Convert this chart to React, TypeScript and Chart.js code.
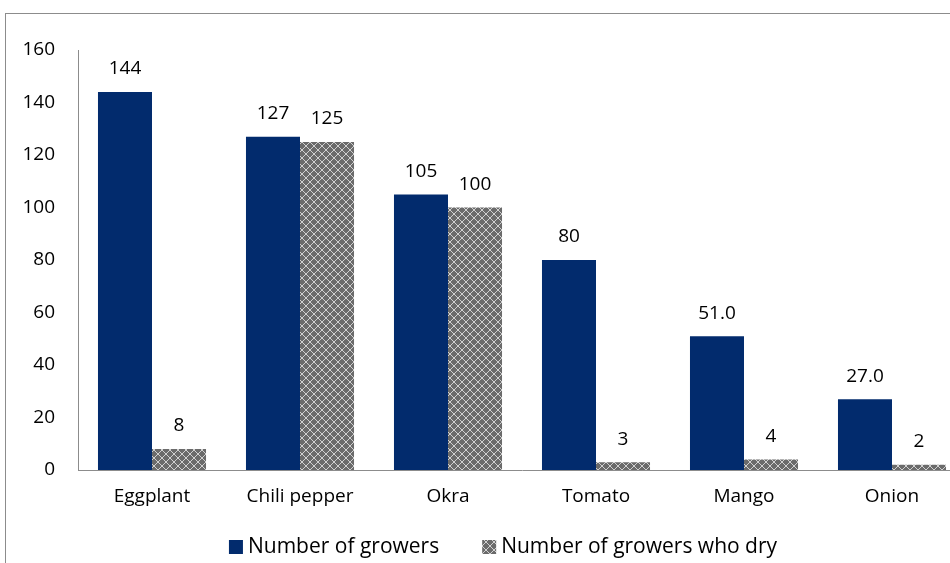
import React, { useEffect, useRef } from "react";
import { Chart, registerables } from "chart.js";

Chart.register(...registerables);

const categories = ["Eggplant", "Chili pepper", "Okra", "Tomato", "Mango", "Onion"];
const growers = [144, 127, 105, 80, 51, 27];
const growersWhoDry = [8, 125, 100, 3, 4, 2];
const growerLabels = ["144", "127", "105", "80", "51.0", "27.0"];
const dryLabels = ["8", "125", "100", "3", "4", "2"];
const seriesNames = ["Number of growers", "Number of growers who dry"];

const FONT = "'Open Sans', Lato, sans-serif";
const FSIZE = 19;
const BLUE = "#022b6d";

function makePattern(): CanvasPattern | string {
  const c = document.createElement("canvas");
  c.width = 8;
  c.height = 8;
  const g = c.getContext("2d");
  if (!g) return "#707070";
  g.fillStyle = "#6b6b6b";
  g.fillRect(0, 0, 8, 8);
  g.strokeStyle = "#d0d0d0";
  g.lineWidth = 1;
  g.beginPath();
  g.moveTo(0, 0);
  g.lineTo(8, 8);
  g.moveTo(8, 0);
  g.lineTo(0, 8);
  g.stroke();
  const p = g.createPattern(c, "repeat");
  return p || "#707070";
}

const labelPlugin = {
  id: "valueLabels",
  afterDatasetsDraw(chart: any) {
    const ctx = chart.ctx;
    const texts = [growerLabels, dryLabels];
    ctx.save();
    ctx.font = `${FSIZE}px ${FONT}`;
    ctx.fillStyle = "#000";
    ctx.textAlign = "center";
    ctx.textBaseline = "middle";
    chart.data.datasets.forEach((_: any, di: number) => {
      const meta = chart.getDatasetMeta(di);
      meta.data.forEach((el: any, i: number) => {
        ctx.fillText(texts[di][i], el.x, el.y - 23);
      });
    });
    ctx.restore();
  },
};

const legendPlugin = {
  id: "customLegend",
  afterDraw(chart: any) {
    const ctx = chart.ctx;
    ctx.save();
    ctx.font = `21px ${FONT}`;
    ctx.textBaseline = "middle";
    ctx.textAlign = "left";
    const box = 14;
    const gapText = 5;
    const gapItem = 43;
    const ds = chart.data.datasets;
    const widths = ds.map((d: any) => ctx.measureText(d.label).width);
    let total = 0;
    widths.forEach((w: number, i: number) => {
      total += box + gapText + w + (i < widths.length - 1 ? gapItem : 0);
    });
    let x = chart.width / 2 - total / 2;
    const cy = 533;
    ds.forEach((d: any, i: number) => {
      ctx.fillStyle = d.backgroundColor;
      ctx.fillRect(x, cy - box / 2, box, box);
      x += box + gapText;
      ctx.fillStyle = "#000";
      ctx.fillText(d.label, x, cy);
      x += widths[i] + gapItem;
    });
    ctx.restore();
  },
};

export default function App() {
  const ref = useRef<HTMLCanvasElement>(null);
  useEffect(() => {
    if (!ref.current) return;
    const pattern = makePattern();
    const chart = new Chart(ref.current, {
      type: "bar",
      data: {
        labels: categories,
        datasets: [
          {
            label: seriesNames[0],
            data: growers,
            backgroundColor: BLUE,
            borderWidth: 0,
            categoryPercentage: 0.73,
            barPercentage: 1,
          },
          {
            label: seriesNames[1],
            data: growersWhoDry,
            backgroundColor: pattern as any,
            borderWidth: 0,
            categoryPercentage: 0.73,
            barPercentage: 1,
          },
        ],
      },
      options: {
        responsive: false,
        animation: false,
        layout: { padding: { top: 36, left: 0, right: 34, bottom: 41 } },
        plugins: {
          tooltip: { enabled: false },
          legend: { display: false },
        },
        scales: {
          x: {
            grid: { display: false, drawTicks: false },
            border: { display: true, color: "#8c8c8c", width: 1 },
            ticks: { color: "#000", font: { family: FONT, size: FSIZE }, padding: 15, maxRotation: 0 },
            afterFit: (s: any) => {
              s.height = 58;
            },
          },
          y: {
            min: 0,
            max: 160,
            grid: { display: false, drawTicks: false },
            border: { display: true, color: "#8c8c8c", width: 1 },
            ticks: { stepSize: 20, color: "#000", font: { family: FONT, size: FSIZE }, padding: 23 },
            afterFit: (s: any) => {
              s.width = 72;
            },
          },
        },
      },
      plugins: [labelPlugin, legendPlugin],
    });
    return () => chart.destroy();
  }, []);

  return (
    <div style={{ position: "fixed", left: 0, top: 0, width: 950, height: 563, overflow: "hidden", background: "#fff" }}>
      <div
        style={{
          position: "absolute",
          left: 5,
          top: 13,
          width: 1000,
          height: 600,
          borderTop: "1px solid #8c8c8c",
          borderLeft: "1px solid #8c8c8c",
        }}
      >
        <canvas ref={ref} width={994} height={555} style={{ display: "block" }} />
      </div>
    </div>
  );
}
